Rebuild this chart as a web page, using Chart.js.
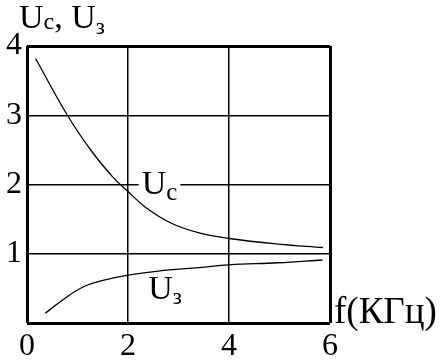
<!DOCTYPE html>
<html>
<head>
<meta charset="utf-8">
<script src="https://cdn.jsdelivr.net/npm/chart.js@4/dist/chart.umd.min.js"></script>
<style>
  html, body { margin: 0; padding: 0; background: #fff; }
  #wrap { width: 447px; height: 360px; }
</style>
</head>
<body>
<div id="wrap"><canvas id="c"></canvas></div>
<script>
// данные
const freqUc = [0.17, 0.8, 1.28, 1.71, 2.0, 2.33, 2.86, 3.41, 4.0, 4.97, 5.86];
const valUc  = [3.82, 3.0, 2.48, 2.1, 1.9, 1.68, 1.44, 1.3, 1.22, 1.14, 1.09];
const freqU3 = [0.36, 0.72, 1.11, 1.59, 2.0, 2.6, 3.41, 4.0, 4.97, 5.85];
const valU3  = [0.14, 0.34, 0.52, 0.63, 0.69, 0.75, 0.80, 0.84, 0.87, 0.91];
const xTicks = [0, 2, 4, 6];
const yTicks = [0, 1, 2, 3, 4];
// где стоят подписи кривых (в единицах осей)
const labelUc = { x: 2.27, y: 1.86 };
const labelU3 = { x: 2.4, y: 0.34 };

const FONT = '"Liberation Serif", "DejaVu Serif", serif';

// текст с индексом: большая буква + маленький индекс
function drawSub(ctx, x, y, main, sub, size, subSize, drop, bg) {
    ctx.font = size + 'px ' + FONT;
    const w1 = ctx.measureText(main).width;
    ctx.font = subSize + 'px ' + FONT;
    const w2 = ctx.measureText(sub).width;
    if (bg) {
        ctx.fillStyle = '#fff';
        ctx.fillRect(x - 3, y - size * 0.75, w1 + w2 + 6, size * 0.9);
    }
    ctx.fillStyle = '#000';
    ctx.textBaseline = 'alphabetic';
    ctx.textAlign = 'left';
    ctx.font = size + 'px ' + FONT;
    ctx.fillText(main, x, y);
    ctx.font = subSize + 'px ' + FONT;
    ctx.fillText(sub, x + w1, y + drop);
    return w1 + w2;
}

const labelsPlugin = {
    id: 'labels',
    afterDraw(chart) {
        const ctx = chart.ctx;
        const sx = chart.scales.x, sy = chart.scales.y;
        ctx.save();
        // заголовок оси Y
        let x = 19;
        x += drawSub(ctx, x, 28, 'U', 'c', 34, 24, 1);
        ctx.font = '34px ' + FONT;
        ctx.fillText(',', x, 28);
        x += ctx.measureText(', ').width;
        drawSub(ctx, x, 28, 'U', 'з', 34, 23, 6);
        // подпись оси X
        ctx.font = '37px ' + FONT;
        ctx.fillText('f(КГц)', sx.right + 4, sy.bottom);
        // подписи кривых
        drawSub(ctx, sx.getPixelForValue(labelUc.x), sy.getPixelForValue(labelUc.y), 'U', 'c', 34, 25, 6, true);
        drawSub(ctx, sx.getPixelForValue(labelU3.x), sy.getPixelForValue(labelU3.y), 'U', 'з', 34, 23, 5);
        ctx.restore();
    }
};

const borderW = (v, a, b) => (v === a || v === b) ? 3 : 1.5;

new Chart(document.getElementById('c'), {
    type: 'scatter',
    data: {
        datasets: [
            {
                label: 'Uc',
                data: freqUc.map((f, i) => ({ x: f, y: valUc[i] })),
                showLine: true,
                borderColor: '#000',
                borderWidth: 1.3,
                pointRadius: 0,
                tension: 0.4
            },
            {
                label: 'Uз',
                data: freqU3.map((f, i) => ({ x: f, y: valU3[i] })),
                showLine: true,
                borderColor: '#000',
                borderWidth: 1.3,
                pointRadius: 0,
                tension: 0.4
            }
        ]
    },
    options: {
        responsive: true,
        maintainAspectRatio: false,
        animation: false,
        layout: { padding: { left: 0, top: 46, right: 117, bottom: 0 } },
        plugins: { legend: { display: false }, tooltip: { enabled: false } },
        scales: {
            x: {
                type: 'linear',
                min: 0, max: 6,
                afterBuildTicks: s => { s.ticks = xTicks.map(v => ({ value: v })); },
                afterFit: s => { s.height = 37; },
                border: { display: false },
                grid: {
                    color: '#000',
                    drawTicks: false,
                    lineWidth: c => borderW(c.tick.value, 0, 6)
                },
                ticks: {
                    color: '#000',
                    padding: 4,
                    maxRotation: 0,
                    font: { family: FONT, size: 32 }
                }
            },
            y: {
                type: 'linear',
                min: 0, max: 4,
                afterBuildTicks: s => { s.ticks = yTicks.map(v => ({ value: v })); },
                afterFit: s => { s.width = 27; },
                border: { display: false },
                grid: {
                    color: '#000',
                    drawTicks: false,
                    lineWidth: c => borderW(c.tick.value, 0, 4)
                },
                ticks: {
                    color: '#000',
                    padding: 5,
                    font: { family: FONT, size: 32 },
                    callback: v => v === 0 ? '' : String(v)
                }
            }
        }
    },
    plugins: [labelsPlugin]
});
</script>
</body>
</html>
